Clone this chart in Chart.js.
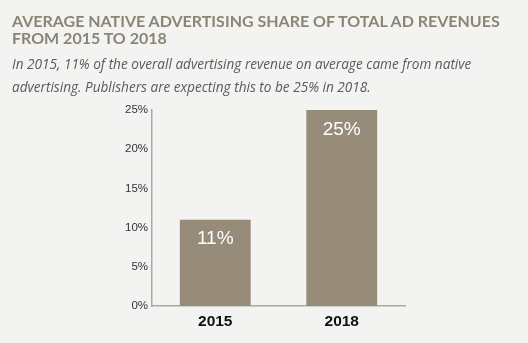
<!DOCTYPE html>
<html>
<head>
<meta charset="utf-8">
<script src="https://cdn.jsdelivr.net/npm/chart.js@4/dist/chart.umd.min.js"></script>
<style>
  html, body { margin: 0; padding: 0; background: #f3f3f1; }
  #wrap { position: relative; width: 528px; height: 343px; overflow: hidden; }
  #chart { position: absolute; left: 0; top: 0; }
  .title {
    position: absolute; left: 12px; top: 12px; width: 510px;
    font-family: "Lato", "Open Sans", sans-serif; font-weight: 700;
    font-size: 16px; line-height: 17px; color: #8b8575;
  }
  .sub {
    position: absolute; left: 12px; top: 52px; width: 515px;
    font-family: "Open Sans", "Lato", sans-serif; font-style: italic;
    font-size: 13.6px; line-height: 23px; color: #5a5a5a;
  }
</style>
</head>
<body>
<div id="wrap">
  <canvas id="chart" width="528" height="343"></canvas>
  <div class="title">AVERAGE NATIVE ADVERTISING SHARE OF TOTAL AD REVENUES<br>FROM 2015 TO 2018</div>
  <div class="sub">In 2015, 11% of the overall advertising revenue on average came from native<br>advertising. Publishers are expecting this to be 25% in 2018.</div>
</div>
<script>
// Data
const years = ['2015', '2018'];
const shareValues = [11, 25];
const yTicks = [0, 5, 10, 15, 20, 25];

const barColor = '#968c79';

// Writes the value in white just under the top of each bar
const valueLabels = {
  id: 'valueLabels',
  afterDatasetsDraw(chart) {
    const ctx = chart.ctx;
    const meta = chart.getDatasetMeta(0);
    ctx.save();
    ctx.fillStyle = '#ffffff';
    ctx.font = '19px "Liberation Sans", Arial, sans-serif';
    ctx.textAlign = 'center';
    ctx.textBaseline = 'top';
    meta.data.forEach((bar, i) => {
      ctx.fillText(shareValues[i] + '%', bar.x, bar.y + 10);
    });
    ctx.restore();
  }
};

new Chart(document.getElementById('chart'), {
  type: 'bar',
  data: {
    labels: years,
    datasets: [{
      data: shareValues,
      backgroundColor: barColor,
      borderWidth: 0,
      barPercentage: 0.56,
      categoryPercentage: 1.0
    }]
  },
  options: {
    responsive: false,
    animation: false,
    layout: { padding: { left: 102, right: 123, top: 110, bottom: 0 } },
    plugins: {
      legend: { display: false },
      tooltip: { enabled: false }
    },
    scales: {
      x: {
        grid: { display: false, drawTicks: false },
        border: { display: true, color: '#a9a9a7', width: 1.5 },
        ticks: {
          color: '#111111',
          padding: 6,
          font: { family: '"Liberation Sans", Arial, sans-serif', size: 15.5, weight: 'bold' }
        },
        afterFit(scale) { scale.height = 37; }
      },
      y: {
        min: 0,
        max: 25,
        grid: { display: false, drawTicks: false },
        border: { display: true, color: '#a9a9a7', width: 1.5 },
        afterBuildTicks(scale) { scale.ticks = yTicks.map(v => ({ value: v })); },
        ticks: {
          color: '#333333',
          padding: 4,
          font: { family: '"Liberation Sans", Arial, sans-serif', size: 11.5 },
          callback: v => v + '%'
        },
        afterFit(scale) { scale.width = 50; }
      }
    }
  },
  plugins: [valueLabels]
});
</script>
</body>
</html>
